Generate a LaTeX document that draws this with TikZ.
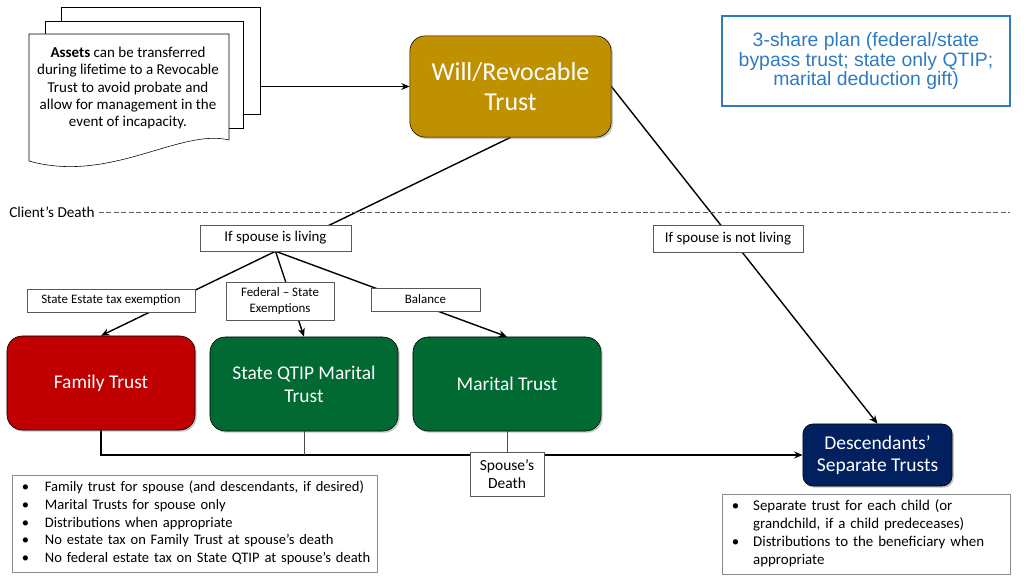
\documentclass[tikz,border=0pt]{standalone}
\usepackage{fontspec}
\setmainfont{Carlito}
\newfontfamily\arialfont{Liberation Sans}
\usepackage{tikz}
\usetikzlibrary{arrows.meta}
\usetikzlibrary{positioning}
\usetikzlibrary{shadows,backgrounds}
\usetikzlibrary{calc}
\definecolor{willgold}{HTML}{BF9000}
\definecolor{famred}{HTML}{C00000}
\definecolor{trgreen}{HTML}{006A32}
\definecolor{descnavy}{HTML}{002060}
\definecolor{shareblue}{HTML}{2E7BC4}
\tikzstyle{trust}=[draw=black,rounded corners=0.38cm,text=white,align=center,inner sep=0pt,minimum width=4.7cm,minimum height=2.35cm,font=\fontsize{13.8}{16.3}\selectfont,drop shadow={opacity=0.45,shadow xshift=1.2pt,shadow yshift=-1.2pt}]
\tikzstyle{lbl}=[draw=black!65,fill=white,align=center,inner sep=0pt,font=\fontsize{9.2}{11.3}\selectfont]
\tikzstyle{note}=[draw=black!45,fill=white,align=left,inner sep=0pt,inner xsep=0.25cm,font=\fontsize{10.6}{12.6}\selectfont]
\tikzstyle{page}=[draw,fill=white,inner sep=0pt]
\tikzstyle{arr}=[-{Stealth[length=6pt,width=5pt]},line width=1pt]

\begin{document}
\begin{tikzpicture}[x=0.025cm,y=-0.025cm]
\useasboundingbox (0,0) rectangle (1024,577);
% stack of pages
\node [page,minimum width=4.98cm,minimum height=2.68cm] (pg3) at (160.5,60.5) {};
\node [page,minimum width=4.95cm,minimum height=2.68cm] (pg2) at (144,74.5) {};
\draw [fill=white] (29,34) -- (229,34) -- (229,140) .. controls (180,128) and (110,184) .. (29,161) -- cycle;
\node [align=center,font=\fontsize{10.7}{12.4}\selectfont] (assets) at (128,88)
  {\textbf{Assets} can be transferred\\during lifetime to a Revocable\\Trust to avoid probate and\\allow for management in the\\event of incapacity.};

\node [trust,fill=willgold,minimum width=5.03cm,minimum height=2.53cm,font=\fontsize{18.4}{21.3}\selectfont] (will) at (510.5,86.5) {Will/Revocable\\Trust};
\node [draw=shareblue,line width=1pt,text=shareblue,align=center,inner sep=0pt,minimum width=7.2cm,minimum height=2.25cm,font=\arialfont\fontsize{13.8}{11.7}\selectfont] (plan) at (866,61)
  {3-share plan (federal/state\\bypass trust; state only QTIP;\\marital deduction gift)};

\node [anchor=west,inner sep=0pt,font=\fontsize{10.8}{12}\selectfont] (death) at (9,212) {Client’s Death};
\coordinate (dashend) at (1010,212);

\node [lbl,minimum width=3.78cm,minimum height=0.65cm,font=\fontsize{10.6}{12}\selectfont] (living) at (275.5,238) {If spouse is living};
\node [lbl,minimum width=3.75cm,minimum height=0.68cm,font=\fontsize{10.6}{12}\selectfont] (notliving) at (728,238.5) {If spouse is not living};
\node [lbl,minimum width=4.2cm,minimum height=0.58cm] (estate) at (111,300.5) {State Estate tax exemption};
\node [lbl,minimum width=2.7cm,minimum height=0.95cm] (federal) at (280,301) {Federal – State\\Exemptions};
\node [lbl,minimum width=2.73cm,minimum height=0.58cm] (balance) at (425.5,299.5) {Balance};

\node [trust,fill=famred] (family) at (101,383) {Family Trust};
\node [trust,fill=trgreen] (qtip) at (304,384) {State QTIP Marital\\Trust};
\node [trust,fill=trgreen] (marital) at (507,384) {Marital Trust};
\node [trust,fill=descnavy,rounded corners=0.25cm,minimum width=3.73cm,minimum height=1.55cm,font=\fontsize{13.9}{15.8}\selectfont] (desc) at (877.5,455) {Descendants’\\Separate Trusts};

\node [lbl,minimum width=1.85cm,minimum height=1.1cm,font=\fontsize{11}{12.5}\selectfont] (sdeath) at (507,474) {Spouse’s\\Death};

\node [note,text width=8.63cm,minimum height=2.43cm,font=\fontsize{10.35}{12.6}\selectfont] (famnote) at (194.5,523.5)
  {\begin{tabular}{@{}p{0.575cm}@{}l@{}}
   \textbullet & Family trust for spouse (and descendants, if desired)\\
   \textbullet & Marital Trusts for spouse only\\
   \textbullet & Distributions when appropriate\\
   \textbullet & No estate tax on Family Trust at spouse’s death\\
   \textbullet & No federal estate tax on State QTIP at spouse’s death
   \end{tabular}};
\node [note,text width=6.7cm,minimum height=2.0cm] (descnote) at (866,534)
  {\begin{tabular}{@{}p{0.53cm}@{}l@{}}
   \textbullet & Separate trust for each child (or\\
               & grandchild, if a child predeceases)\\
   \textbullet & Distributions to the beneficiary when\\
               & appropriate
   \end{tabular}};

\begin{scope}[on background layer]
\draw [arr] (pg3.east |- will.west) -- (will.west);
\draw [line width=1pt] (will.south) -- (living.south);
\draw [arr] (living.south) -- (family.north);
\draw [arr] (living.south) -- (qtip.north);
\draw [arr] (living.south) -- (marital.north);
\draw [arr] (will.east) -- (desc.north);
\draw [arr,line width=1.4pt] (family.south) |- (desc.west);
\draw [black!70,line width=0.5pt] (qtip.south) -- (qtip.south |- desc.west);
\draw [black!70,line width=0.5pt] (marital.south) -- (sdeath.north);
\draw [black!65,line width=0.4pt,dash pattern=on 3.5pt off 1.8pt] (death.east) ++(4,0) -- (dashend);
\end{scope}
\end{tikzpicture}
\end{document}
